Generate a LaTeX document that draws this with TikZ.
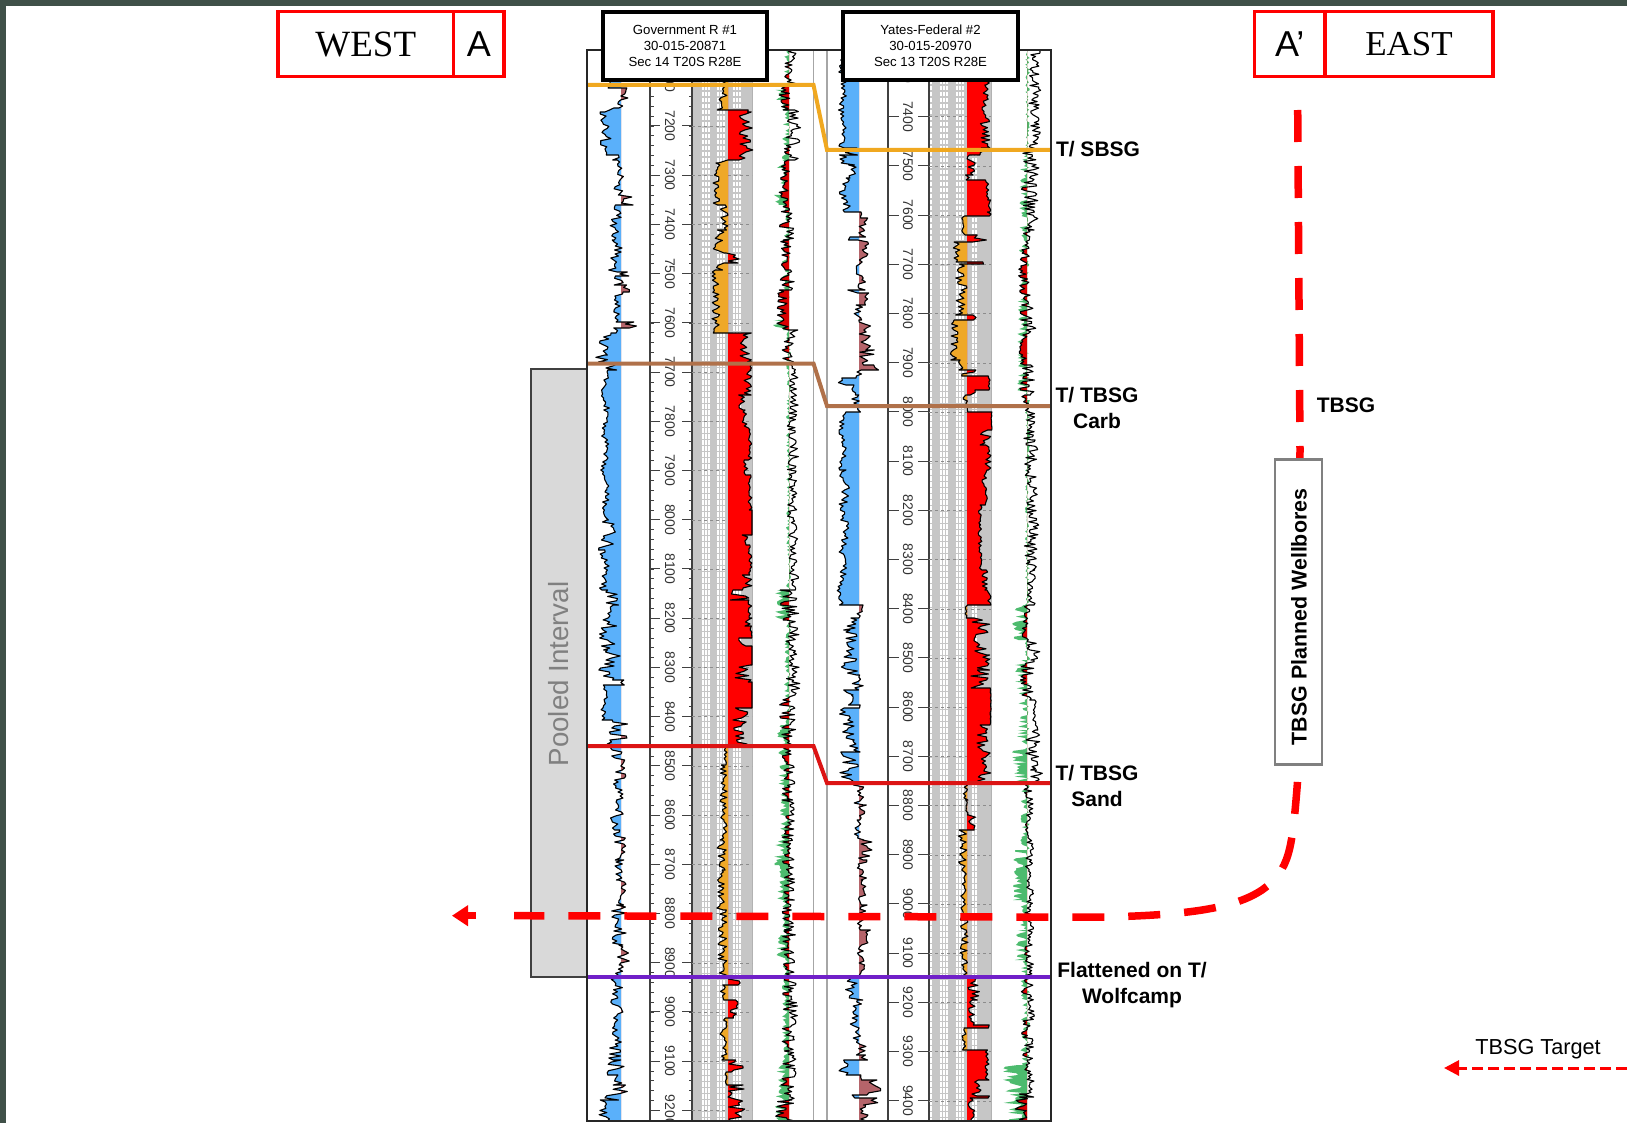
\documentclass[tikz,border=0pt]{standalone}
\usepackage{fontspec}
\setmainfont{Liberation Sans}
\newfontfamily\westfont{Liberation Serif}
\usepackage{xcolor}
\usepackage{tikz}
\usetikzlibrary{arrows.meta}

\definecolor{barcol}{HTML}{3F5048}
\definecolor{logblue}{HTML}{5AB0FA}
\definecolor{logbrown}{HTML}{B5646A}
\definecolor{logorange}{HTML}{EFA828}
\definecolor{loggreen}{HTML}{4DBB6E}
\definecolor{loggrey}{HTML}{C6C6C6}
\definecolor{topsbsg}{HTML}{F0A820}
\definecolor{toptbsg}{HTML}{B0714A}
\definecolor{topsand}{HTML}{DC1414}
\definecolor{topwolf}{HTML}{7020C8}

\newcommand{\makelog}[5]{%
  \pgfmathsetseed{#2}%
  \gdef#1{}%
  \foreach \ya/\yb/\xa/\xb in {#5}{%
    \pgfmathtruncatemacro\logn{max(1,(\yb-\ya)/#3)}%
    \foreach \k in {0,...,\logn}{%
      \pgfmathsetmacro\logy{\ya+(\yb-\ya)/\logn*\k}%
      \pgfmathsetmacro\logx{\xa+(\xb-\xa)*rnd+#4*sin(\logy*9)}%
      \xdef#1{#1 (\logx,\logy)}%
    }%
  }%
}
\newcommand{\logareaB}[3]{\fill[#3] (#2,50) -- plot coordinates {#1} -- (#2,1121) -- cycle;}
\newcommand{\logarea}[3]{\expandafter\logareaB\expandafter{#1}{#2}{#3}}
\newcommand{\loglineB}[1]{\draw[logline] plot coordinates {#1};}
\newcommand{\logline}[1]{\expandafter\loglineB\expandafter{#1}}
\newcommand{\logtrack}[4]{%
  \begin{scope}\clip (400,50) rectangle (#2,1121); \logarea{#1}{#2}{#3} \end{scope}%
  \begin{scope}\clip (#2,50) rectangle (1200,1121); \logarea{#1}{#2}{#4} \end{scope}%
}

\makelog{\spA}{11}{2}{1.5}{50/80/604/612, 80/88/606/610, 88/108/618/628, 108/112/603/618, 112/155/600/612,
  155/160/610/622, 160/195/614/625, 195/205/620/635, 205/240/611/622, 240/272/610/621, 272/276/621/631,
  276/285/613/623, 285/292/620/628, 292/322/614/622, 322/328/622/638, 328/333/610/620, 333/355/600/612,
  355/362/595/612, 362/370/602/620, 370/490/602/608, 490/520/603/610, 520/550/600/615, 550/590/601/608,
  590/605/600/625, 605/620/603/615, 620/650/600/618, 650/680/600/620, 680/685/620/625, 685/720/602/607,
  720/746/608/627, 746/800/612/625, 800/830/610/622, 830/860/612/628, 860/880/616/626, 880/905/618/625,
  905/945/612/628, 945/965/618/630, 965/1000/611/624, 1000/1040/610/622, 1040/1060/608/622,
  1060/1075/606/628, 1075/1085/612/622, 1085/1100/603/626, 1100/1121/598/610}
\makelog{\gaA}{23}{2}{0}{50/85/715/727, 85/110/717/727, 110/112/727/752, 112/160/739/753, 160/163/713/730,
  163/205/713/720, 205/230/720/729, 230/253/712/725, 253/263/725/741, 263/270/716/724, 270/333/712/720,
  333/362/740/752, 362/370/750/752, 370/395/744/752, 395/410/738/745, 410/430/742/750, 430/460/748/752,
  460/475/742/748, 475/510/748/752, 510/535/752/752, 535/545/735/752, 545/575/748/752, 575/590/742/752,
  590/600/728/752, 600/618/748/752, 618/626/740/752, 626/638/750/752, 638/646/735/752, 646/665/752/752,
  665/682/735/752, 682/708/752/752, 708/746/733/752, 746/765/722/728, 765/840/720/727, 840/870/717/727,
  870/910/715/725, 910/977/718/727, 977/985/728/742, 985/1000/720/726, 1000/1018/728/740,
  1018/1060/720/727, 1060/1072/728/748, 1072/1085/725/727, 1085/1121/728/745}
\makelog{\grnA}{37}{1.6}{0}{50/90/784/790, 90/100/774/786, 100/160/782/790, 160/168/774/786, 168/195/780/790,
  195/205/773/785, 205/320/782/790, 320/330/773/785, 330/590/786/791, 590/620/775/786, 620/725/784/791,
  725/745/777/786, 745/790/778/787, 790/840/780/788, 840/865/774/786, 865/900/777/786, 900/935/782/788,
  935/960/775/786, 960/1065/782/788, 1065/1121/775/787}
\makelog{\rtA}{41}{1.6}{1}{50/85/785/797, 85/110/778/790, 110/160/785/800, 160/210/780/789, 210/240/780/795,
  240/270/780/790, 270/290/780/795, 290/330/776/788, 330/360/782/798, 360/550/788/798, 550/590/788/798,
  590/620/778/798, 620/690/786/800, 690/746/780/796, 746/800/783/795, 800/900/782/795, 900/930/783/793,
  930/977/782/795, 977/1080/782/797, 1080/1100/780/795, 1100/1121/775/795}
\makelog{\spB}{53}{2}{1.5}{50/148/840/846, 148/155/845/860, 155/165/840/858, 165/178/845/855, 178/212/840/850,
  212/218/859/862, 218/237/860/868, 237/240/845/860, 240/280/857/868, 280/290/855/865, 290/293/843/860,
  293/305/860/870, 305/320/855/865, 320/340/858/870, 340/350/860/872, 350/365/860/876, 365/370/872/878,
  370/378/855/862, 378/385/837/848, 385/395/850/858, 395/405/850/860, 405/412/855/860, 412/470/840/845,
  470/570/840/848, 570/605/838/845, 605/618/855/862, 618/630/845/860, 630/655/845/858, 655/675/838/860,
  675/690/850/862, 690/695/838/855, 695/705/840/860, 705/708/860/867, 708/740/840/855, 740/752/850/862,
  752/783/838/858, 783/805/853/865, 805/820/855/868, 820/840/855/865, 840/860/858/872, 860/880/858/868,
  880/895/860/865, 895/905/855/865, 905/915/857/870, 915/930/855/868, 930/945/860/872, 945/977/858/866,
  977/1000/843/865, 1000/1040/850/862, 1040/1055/855/865, 1055/1060/860/868, 1060/1075/840/850,
  1075/1080/858/862, 1080/1095/860/880, 1095/1098/835/860, 1098/1105/862/880, 1105/1121/860/870}
\makelog{\gaB}{61}{2}{0}{50/85/985/991, 85/148/980/990, 148/155/975/985, 155/175/967/977, 175/180/965/970,
  180/200/985/990, 200/212/988/991, 212/216/985/991, 216/235/960/967, 235/238/967/990, 238/242/967/990,
  242/262/953/960, 262/264/970/990, 264/290/955/967, 290/315/955/965, 315/320/965/977, 320/360/950/958,
  360/370/958/965, 370/376/960/977, 376/390/988/991, 390/395/965/985, 395/405/963/968, 405/412/966/968,
  412/430/991/992, 430/445/980/991, 445/470/985/991, 470/490/982/988, 490/505/985/988, 505/525/978/982,
  525/570/978/982, 570/590/982/988, 590/605/985/991, 605/618/965/968, 618/655/972/990, 655/670/975/990,
  670/688/970/990, 688/725/990/991, 725/783/975/991, 783/800/963/968, 800/815/965/968, 815/830/968/977,
  830/880/958/967, 880/920/960/966, 920/977/960/968, 977/1000/968/980, 1000/1025/968/975, 1025/1028/985/990,
  1028/1050/962/966, 1050/1080/985/990, 1080/1096/970/982, 1096/1098/985/990, 1098/1121/968/975}
\makelog{\grnB}{71}{1.6}{0}{50/150/1025/1030, 150/300/1019/1030, 300/400/1017/1030, 400/605/1025/1030, 605/640/1012/1027,
  640/660/1025/1030, 660/690/1015/1030, 690/730/1018/1030, 730/783/1012/1030, 783/850/1020/1030,
  850/880/1013/1028, 880/900/1012/1026, 900/930/1020/1030, 930/960/1012/1028, 960/1065/1020/1030,
  1065/1121/1003/1024}
\makelog{\rtB}{83}{1.6}{1}{50/150/1029/1040, 150/230/1022/1038, 230/245/1024/1032, 245/300/1018/1030, 300/335/1020/1035,
  335/365/1020/1027, 365/395/1020/1035, 395/412/1020/1030, 412/440/1024/1036, 440/570/1025/1038,
  570/605/1028/1035, 605/640/1022/1029, 640/660/1025/1040, 660/700/1020/1035, 700/730/1030/1037,
  730/770/1025/1040, 770/783/1030/1045, 783/977/1025/1033, 977/1060/1022/1035, 1060/1094/1025/1035,
  1094/1097/1007/1035, 1097/1121/1016/1030}

\begin{document}
\begin{tikzpicture}[x=1pt,y=-1pt,
  wellbox/.style={draw=black,line width=3.2pt,fill=white,align=center,inner sep=0pt,
    minimum height=68pt,font=\fontsize{13.2}{16}\selectfont},
  sidebox/.style={draw=red,line width=3.5pt,inner sep=0pt,minimum height=65pt},
  toplabel/.style={font=\fontsize{21}{26}\selectfont\bfseries,align=center,inner sep=0pt},
  depthlabel/.style={rotate=-90,font=\fontsize{14}{14}\selectfont,text=black!80,inner sep=0pt},
  logline/.style={black,line width=1.1pt,line join=round},
  toptrace/.style={line width=4pt,miter limit=4},
  targetline/.style={red,line width=7.5pt,dash pattern=on 32pt off 24pt},
  bandline/.style={white,line width=1.3pt,dash pattern=on 4.5pt off 1.5pt},
  paneedge/.style={black!75,line width=1.5pt},
  tracerule/.style={black!35,line width=1.3pt}]
\useasboundingbox (0,0) rectangle (1627,1123);
\fill[barcol] (0,0) rectangle (1627,6.5);
\fill[barcol] (0,0) rectangle (5.5,1123);

\node[draw=black!75,fill=black!15,line width=1.5pt,minimum width=56pt,minimum height=608pt,inner sep=0pt] (pooled) at (559,673) {};
\node[rotate=90,text=black!50,font=\fontsize{27.7}{28}\selectfont,inner sep=0pt] (pooledtext) at (559,674) {Pooled Interval};

\begin{scope}
\clip (587,50) rectangle (1051,1120.5);
\fill[loggrey] (692,50) rectangle (752,1121);
\fill[loggrey] (929,50) rectangle (991,1121);
\foreach \x in {703,706,709,718,721,724,734,737,740,
                931,941,944,947,957,960,963,973,976}
  \draw[bandline] (\x,50) -- (\x,1121);
\draw[paneedge] (650,50) -- (650,1121);
\draw[paneedge] (692,50) -- (692,1121);
\draw[paneedge] (888,50) -- (888,1121);
\draw[paneedge] (929,50) -- (929,1121);
\draw[tracerule] (813.5,50) -- (813.5,1121);
\draw[tracerule] (827,50) -- (827,1121);
\draw[black!30] (752,50) -- (752,1121);
\draw[black!30] (991,50) -- (991,1121);

\foreach \tk in {0,...,105}{
  \pgfmathsetmacro\ty{76.8+\tk*9.844}
  \draw[paneedge,line width=0.8pt] (650,\ty) -- (653.5,\ty);
  \draw[paneedge,line width=0.8pt] (692,\ty) -- (688.5,\ty);
}
\foreach \depth in {7100,7200,...,9200}{
  \pgfmathsetmacro\ty{126+(\depth-7200)*0.4922}
  \draw[paneedge,line width=1pt] (650,\ty) -- (660,\ty);
  \draw[paneedge,line width=1pt] (682,\ty) -- (692,\ty);
  \draw[black!45,line width=0.4pt,dashed] (692,\ty) -- (752,\ty);
  \node[depthlabel] (wa\depth) at (670,\ty) {\depth};
}
\foreach \depth in {7300,7400,...,9400}{
  \pgfmathsetmacro\ty{116.7+(\depth-7400)*0.492}
  \draw[paneedge,line width=1pt] (888,\ty) -- (899,\ty);
  \draw[paneedge,line width=1pt] (918,\ty) -- (929,\ty);
  \draw[black!45,line width=0.4pt,dashed] (929,\ty) -- (991,\ty);
  \node[depthlabel] (wb\depth) at (908,\ty) {\depth};
}

\logtrack{\spA}{621}{logblue}{logbrown}
\logline{\spA}
\logtrack{\gaA}{728}{logorange}{red}
\logline{\gaA}
\logarea{\grnA}{789}{loggreen}
\begin{scope}\clip (700,50) rectangle (789,1121); \logarea{\rtA}{789}{red!85!black} \end{scope}
\logline{\rtA}

\logtrack{\spB}{859}{logblue}{logbrown}
\logline{\spB}
\logtrack{\gaB}{967}{logorange}{red}
\logline{\gaB}
\logarea{\grnB}{1027}{loggreen}
\begin{scope}\clip (950,50) rectangle (1027,1121); \logarea{\rtB}{1027}{red!85!black} \end{scope}
\logline{\rtB}
\end{scope}

\coordinate (sbsga) at (588,85);   \coordinate (sbsgb) at (813.5,85);
\coordinate (sbsgc) at (827,150);  \coordinate (sbsgd) at (1051,150);
\coordinate (carba) at (588,363.5); \coordinate (carbb) at (813.5,363.5);
\coordinate (carbc) at (827,406);  \coordinate (carbd) at (1051,406);
\coordinate (sanda) at (588,746);  \coordinate (sandb) at (813.5,746);
\coordinate (sandc) at (827,783);  \coordinate (sandd) at (1051,783);
\coordinate (wolfa) at (588,977);  \coordinate (wolfb) at (1051,977);
\draw[toptrace,topsbsg] (sbsga) -- (sbsgb) -- (sbsgc) -- (sbsgd);
\draw[toptrace,toptbsg] (carba) -- (carbb) -- (carbc) -- (carbd);
\draw[toptrace,topsand] (sanda) -- (sandb) -- (sandc) -- (sandd);
\draw[toptrace,topwolf,line width=3.5pt] (wolfa) -- (wolfb);

\draw[black!85,line width=2pt] (587,50) rectangle (1051,1120.5);

\node[wellbox,minimum width=164pt] (gov) at (685,46) {Government R \#1\\30-015-20871\\Sec 14 T20S R28E};
\node[wellbox,minimum width=175pt] (yates) at (930.5,46) {Yates-Federal \#2\\30-015-20970\\Sec 13 T20S R28E};

\node[sidebox,minimum width=175.5pt,font=\fontsize{37}{37}\selectfont\westfont] (west) at (365.75,44.25) {WEST};
\node[sidebox,minimum width=50.5pt,font=\fontsize{36}{36}\selectfont] (sidea) at (478.75,44.25) {A};
\node[sidebox,minimum width=70.5pt,font=\fontsize{36}{36}\selectfont] (sideb) at (1289.75,44.25) {A’};
\node[sidebox,minimum width=168pt,font=\fontsize{35}{35}\selectfont\westfont] (east) at (1409,44.25) {EAST};

\node[toplabel] (lsbsg) at (1098,149) {T/ SBSG};
\node[toplabel] (lcarb) at (1097,408) {T/ TBSG\\Carb};
\node[toplabel] (lsand) at (1097,786) {T/ TBSG\\Sand};
\node[toplabel] (lwolf) at (1132,985) {Flattened on T/\\Wolfcamp};
\node[toplabel] (ltbsg) at (1346,405) {TBSG};

\coordinate (plana) at (1297.7,110);
\coordinate (planb) at (1300,450);
\coordinate (planc) at (1297.5,782);
\coordinate (pland) at (1262,890);
\coordinate (plane) at (1105,917);
\coordinate (planf) at (1018,917);
\coordinate (plang) at (514,915.7);
\coordinate (headb) at (476,915.7);
\coordinate (headt) at (452,915.7);
\draw[targetline] (plana) -- (planb) -- (planc) .. controls (1292,850) and (1290,870) .. (pland)
  .. controls (1235,908) and (1190,915) .. (plane) -- (planf) -- (plang);
\draw[red,line width=7.5pt,-{Triangle[length=16pt,width=20pt]}] (headb) -- (headt);

\node[draw=black!50,fill=white,line width=2.6pt,minimum width=47pt,minimum height=305pt,inner sep=0pt] (planned) at (1298.5,612) {};
\node[rotate=90,font=\fontsize{21.4}{22}\selectfont\bfseries,inner sep=0pt] (plannedtext) at (1299,617) {TBSG Planned Wellbores};

\node[font=\fontsize{21.7}{22}\selectfont,inner sep=0pt] (ltarget) at (1538,1049) {TBSG Target};
\coordinate (keya) at (1627,1068);
\coordinate (keyb) at (1444,1068);
\draw[red,line width=3pt,dash pattern=on 11pt off 5pt,-{Triangle[length=15pt,width=15pt]}] (keya) -- (keyb);
\end{tikzpicture}
\end{document}
